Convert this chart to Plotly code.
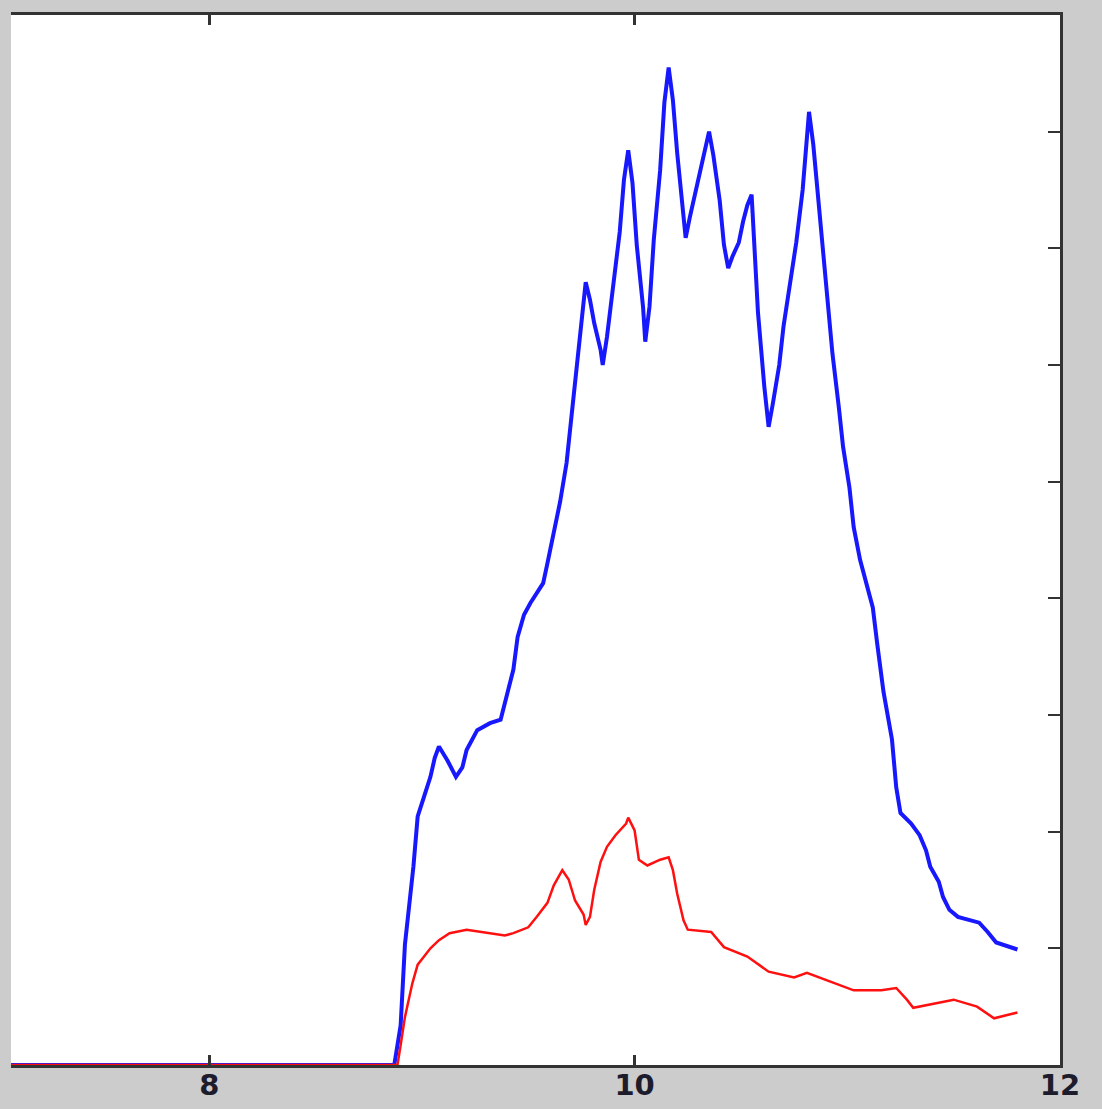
import plotly.graph_objects as go

# Blue series
blue_x = [7.0, 8.87, 8.90, 8.92, 8.96, 8.98, 9.01, 9.04, 9.06, 9.08, 9.12, 9.16, 9.19, 9.21,
          9.26, 9.32, 9.37, 9.39, 9.43, 9.45, 9.48, 9.51, 9.54, 9.57, 9.59, 9.62, 9.65, 9.68,
          9.70, 9.73, 9.76, 9.77, 9.79, 9.81, 9.84, 9.85, 9.87, 9.90, 9.93, 9.95, 9.97, 9.99,
          10.01, 10.04, 10.05, 10.07, 10.09, 10.12, 10.14, 10.16, 10.18, 10.20, 10.23, 10.24,
          10.26, 10.28, 10.31, 10.33, 10.35, 10.37, 10.40, 10.42, 10.44, 10.46, 10.49, 10.51,
          10.53, 10.55, 10.56, 10.58, 10.61, 10.63, 10.65, 10.68, 10.70, 10.73, 10.76, 10.79,
          10.81, 10.82, 10.84, 10.87, 10.90, 10.93, 10.96, 10.98, 11.01, 11.03, 11.06, 11.09,
          11.12, 11.14, 11.17, 11.21, 11.23, 11.25, 11.30, 11.34, 11.37, 11.39, 11.43, 11.45,
          11.48, 11.52, 11.62, 11.66, 11.70, 11.80]
blue_y = [0, 0, 0.34, 1.03, 1.70, 2.13, 2.30, 2.47, 2.63, 2.73, 2.61, 2.47, 2.55, 2.70,
          2.87, 2.93, 2.96, 3.10, 3.39, 3.67, 3.86, 3.96, 4.05, 4.13, 4.30, 4.56, 4.83, 5.16,
          5.49, 6.04, 6.49, 6.71, 6.56, 6.36, 6.13, 6.00, 6.24, 6.67, 7.14, 7.59, 7.84, 7.56,
          7.03, 6.49, 6.20, 6.50, 7.07, 7.67, 8.25, 8.55, 8.27, 7.82, 7.33, 7.09,
          7.27, 7.43, 7.65, 7.84, 8.00, 7.80, 7.41, 7.03, 6.83, 6.93, 7.05, 7.23,
          7.37, 7.46, 7.14, 6.45, 5.81, 5.47, 5.67, 6.00, 6.33, 6.67, 7.05, 7.50,
          7.93, 8.17, 7.89, 7.29, 6.70, 6.10, 5.64, 5.30, 4.95, 4.61, 4.33, 4.13,
          3.92, 3.62, 3.20, 2.79, 2.38, 2.16, 2.07, 1.97, 1.84, 1.70, 1.57, 1.44,
          1.33, 1.27, 1.22, 1.14, 1.05, 0.99]

# Red series
red_x = [7.0, 8.885, 8.90, 8.92, 8.955, 8.98, 9.01, 9.04, 9.08, 9.13, 9.21, 9.28, 9.36,
         9.39, 9.43, 9.50, 9.54, 9.59, 9.62, 9.66, 9.69, 9.72, 9.76, 9.77, 9.79, 9.81, 9.84,
         9.87, 9.91, 9.96, 9.97, 10.00, 10.02, 10.06, 10.12, 10.16, 10.18, 10.20, 10.23,
         10.25, 10.36, 10.42, 10.53, 10.63, 10.75, 10.81, 11.03, 11.16, 11.23, 11.28,
         11.31, 11.50, 11.61, 11.69, 11.80]
red_y = [0, 0, 0.17, 0.41, 0.70, 0.86, 0.93, 1.00, 1.07, 1.13, 1.16, 1.14, 1.12,
         1.11, 1.13, 1.18, 1.27, 1.39, 1.54, 1.67, 1.59, 1.41, 1.29, 1.20, 1.27, 1.50, 1.74,
         1.87, 1.97, 2.07, 2.12, 2.01, 1.76, 1.71, 1.76, 1.78, 1.67, 1.47, 1.24,
         1.16, 1.14, 1.01, 0.93, 0.80, 0.75, 0.79, 0.64, 0.64, 0.66, 0.56,
         0.49, 0.56, 0.50, 0.40, 0.45]

x_ticks = [8, 10, 12]
y_ticks = [1, 2, 3, 4, 5, 6, 7, 8]

fig = go.Figure()
fig.add_trace(go.Scatter(x=blue_x, y=blue_y, mode="lines",
                         line=dict(color="#1818ff", width=4), showlegend=False))
fig.add_trace(go.Scatter(x=red_x, y=red_y, mode="lines",
                         line=dict(color="#ff1010", width=2.5), showlegend=False))

axis_col = "#333333"
fig.update_layout(
    width=1102, height=1109,
    margin=dict(l=11, r=42, t=15, b=44, autoexpand=False),
    paper_bgcolor="#cccccc",
    plot_bgcolor="white",
    font=dict(family="DejaVu Sans, Liberation Sans, sans-serif", size=29, color="#1c1c2c"),
    xaxis=dict(range=[7.068, 12], tickvals=x_ticks, ticktext=["<b>%d</b>" % t for t in x_ticks],
               ticks="inside", ticklen=10, tickwidth=3, tickcolor=axis_col,
               ticklabelstandoff=-8,
               showline=True, linewidth=3, linecolor=axis_col, mirror="ticks",
               showgrid=False, zeroline=False, automargin=False),
    yaxis=dict(range=[0, 9], tickvals=y_ticks, side="right",
               ticks="inside", ticklen=12, tickwidth=2, tickcolor=axis_col,
               showticklabels=False, showline=True, linewidth=3, linecolor=axis_col,
               showgrid=False, zeroline=False, automargin=False),
)

fig.write_html("out.html")
